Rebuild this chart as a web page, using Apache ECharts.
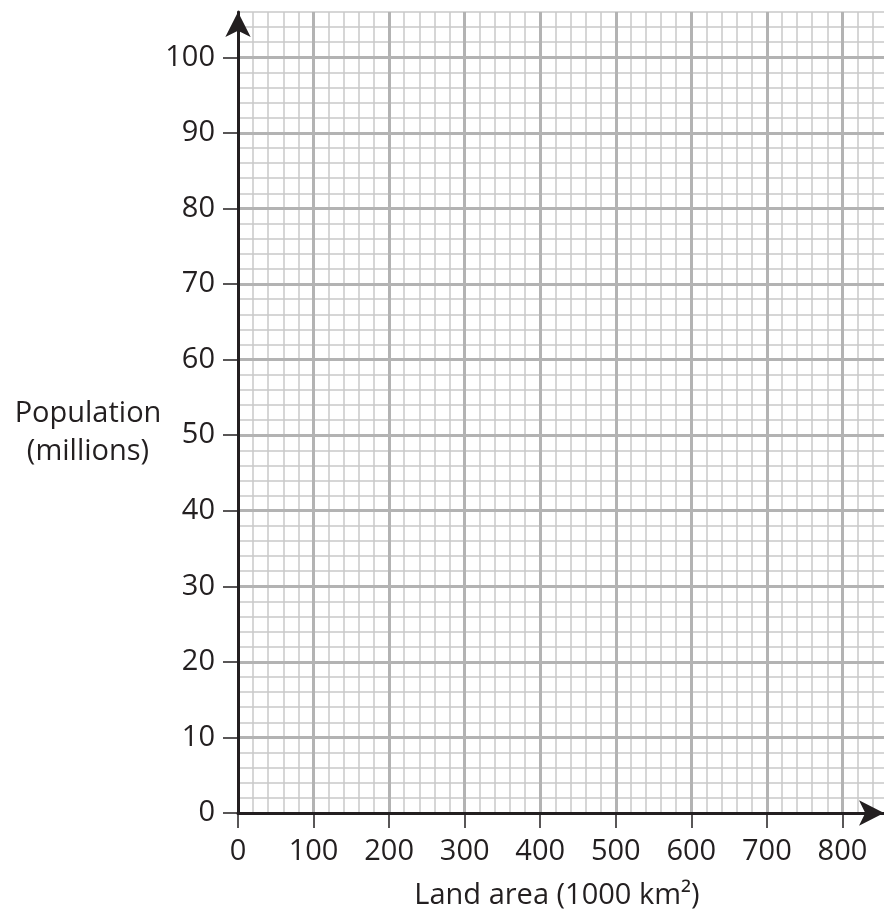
<!DOCTYPE html>
<html>
<head>
<meta charset="utf-8">
<script src="https://cdn.jsdelivr.net/npm/echarts@6/dist/echarts.min.js"></script>
<style>
  html, body { margin: 0; padding: 0; background: #ffffff; }
  #chart { width: 884px; height: 912px; }
</style>
</head>
<body>
<div id="chart"></div>
<script>
// Axis values
const xTicks = [0, 100, 200, 300, 400, 500, 600, 700, 800];
const yTicks = [0, 10, 20, 30, 40, 50, 60, 70, 80, 90, 100];
const xRange = [0, 855];
const yRange = [0, 106];
const xMajorStep = 100, xMinorStep = 20;
const yMajorStep = 10, yMinorStep = 2;
const xName = 'Land area (1000 km²)';
const yName = 'Population\n(millions)';
const points = []; // the reference grid carries no plotted data

const INK = '#231f20';
const FONT = 'Open Sans';
const FS = 29;
const MAJOR = { color: '#b3b3b3', width: 3 };
const MINOR = { color: '#c8c8c8', width: 1.5 };
const ARROW = { symbol: ['none', 'arrow'], symbolSize: [19, 25], symbolOffset: [0, 0] };

function gridAxis(range, step, style, position, z, showMax) {
  return {
    type: 'value', position: position, min: range[0], max: range[1], interval: step, z: z,
    axisLine: { show: false, onZero: false }, axisTick: { show: false }, axisLabel: { show: false },
    splitLine: { show: true, showMinLine: false, showMaxLine: showMax, lineStyle: style }
  };
}

const chart = echarts.init(document.getElementById('chart'), null, { renderer: 'canvas' });
chart.setOption({
  animation: false,
  backgroundColor: '#ffffff',
  grid: { left: 238, top: 12, right: 0, bottom: 99, containLabel: false, outerBoundsMode: 'none' },
  xAxis: [
    gridAxis(xRange, xMinorStep, MINOR, 'bottom', 1, false),
    gridAxis(xRange, xMajorStep, MAJOR, 'bottom', 2, false),
    {
      type: 'value', position: 'bottom', min: xRange[0], max: xRange[1], interval: xMajorStep, z: 3,
      name: xName, nameLocation: 'middle', nameGap: 68,
      nameTextStyle: { fontFamily: FONT, fontSize: FS, color: INK, padding: [0, 8, 0, 0] },
      axisLine: Object.assign({ show: true, onZero: false, lineStyle: { color: INK, width: 3 } }, ARROW),
      axisTick: { show: true, length: 15, customValues: xTicks, lineStyle: { color: INK, width: 1.5 } },
      axisLabel: { show: true, margin: 24, customValues: xTicks, fontFamily: FONT, fontSize: FS, color: INK },
      splitLine: { show: false }
    }
  ],
  yAxis: [
    gridAxis(yRange, yMinorStep, MINOR, 'left', 1, true),
    gridAxis(yRange, yMajorStep, MAJOR, 'left', 2, false),
    {
      type: 'value', position: 'left', min: yRange[0], max: yRange[1], interval: yMajorStep, z: 3,
      axisLine: Object.assign({ show: true, onZero: false, lineStyle: { color: INK, width: 3 } }, ARROW),
      axisTick: { show: true, length: 15, customValues: yTicks, lineStyle: { color: INK, width: 1.5 } },
      axisLabel: { show: true, margin: 23, customValues: yTicks, fontFamily: FONT, fontSize: FS, color: INK },
      splitLine: { show: false }
    }
  ],
  graphic: [{
    type: 'text', x: 88, y: 433, z: 10,
    style: { text: yName, fontFamily: FONT, fontSize: FS, fill: INK, lineHeight: 38,
      align: 'center', verticalAlign: 'middle' }
  }],
  series: [{ type: 'scatter', xAxisIndex: 2, yAxisIndex: 2, data: points, symbolSize: 0 }]
});
</script>
</body>
</html>
